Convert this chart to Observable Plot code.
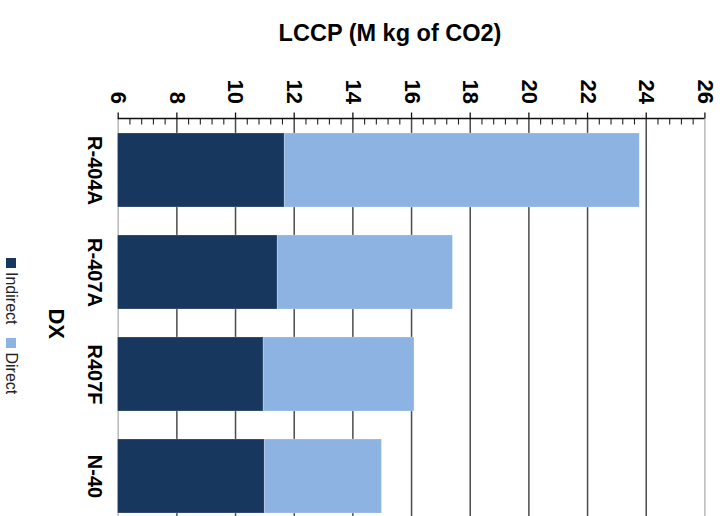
<!DOCTYPE html>
<html>
<head>
<meta charset="utf-8">
<script src="https://cdn.jsdelivr.net/npm/d3@7"></script>
<script src="https://cdn.jsdelivr.net/npm/@observablehq/plot@0.6"></script>
<style>
  html, body { margin: 0; padding: 0; background: #fff; overflow: hidden; }
  body { width: 723px; height: 516px; position: relative; font-family: "Liberation Sans", Arial, sans-serif; }
  #chart { position: absolute; left: 0; top: 0; }
  #title {
    position: absolute; left: 390px; top: 22px; transform: translateX(-50%);
    font-size: 23.5px; line-height: 23px; font-weight: bold; white-space: nowrap; color: #000;
  }
  #legend {
    position: absolute; left: 20px; top: 258px;
    transform-origin: 0 0; transform: rotate(90deg);
    font-size: 16px; line-height: 18px; white-space: nowrap; color: #222;
  }
  #legend .item { display: inline-block; margin-right: 14px; }
  #legend .sw { display: inline-block; width: 10px; height: 10px; margin-right: 4px; vertical-align: baseline; }
</style>
</head>
<body>
<div id="chart"></div>
<div id="title">LCCP (M kg of CO2)</div>
<div id="legend"></div>
<script>
// Refrigerant options (DX system) and their life-cycle climate performance, M kg of CO2
const categories = ["R-404A", "R-407A", "R407F", "N-40"];
const seriesNames = ["Indirect", "Direct"];
const seriesColors = ["#17375E", "#8DB3E2"];
const indirect = [11.68, 11.44, 10.96, 11.0];
const direct = [12.1, 5.97, 5.14, 3.99];
const xTicks = [6, 8, 10, 12, 14, 16, 18, 20, 22, 24, 26];
const minorStep = 0.4;

const rows = categories.flatMap((c, i) => [
  {category: c, series: seriesNames[0], value: indirect[i]},
  {category: c, series: seriesNames[1], value: direct[i]}
]);

const W = 723, H = 528;
const mTop = 118.5, mLeft = 117.7, mRight = 18.6, mBottom = 0;
const frameH = H - mTop - mBottom;
const [xMin, xMax] = [xTicks[0], xTicks[xTicks.length - 1]];
const minorTicks = d3.range(xMin, xMax + 1e-9, minorStep)
  .filter(v => !xTicks.some(t => Math.abs(t - v) < 1e-6));
const innerTicks = xTicks.filter(t => t !== xMin && t !== xMax);

const chart = Plot.plot({
  width: W,
  height: H,
  marginTop: mTop,
  marginLeft: mLeft,
  marginRight: mRight,
  marginBottom: mBottom,
  style: {fontFamily: "'Liberation Sans', Arial, sans-serif", background: "transparent", overflow: "visible"},
  x: {domain: [xMin, xMax], axis: null},
  y: {domain: categories, axis: null, paddingInner: 0.276, paddingOuter: 0.138},
  color: {domain: seriesNames, range: seriesColors},
  marks: [
    // vertical gridlines
    Plot.ruleX(innerTicks, {stroke: "#4a4a4a", strokeWidth: 1.5}),
    Plot.ruleX([xMin, xMax], {stroke: "#b4b4b4", strokeWidth: 1.4}),
    // stacked bars (the stack starts at zero, clipped to the axis minimum)
    Plot.barX(rows, Plot.stackX({
      x: "value", y: "category", fill: "series",
      stroke: "white", strokeOpacity: 0.22, strokeWidth: 1, clip: true
    })),
    // major ticks above the axis, minor ticks below it
    Plot.ruleX(xTicks, {insetTop: -6, insetBottom: frameH, stroke: "#111", strokeWidth: 1.3}),
    Plot.ruleX(minorTicks, {insetBottom: frameH - 6, stroke: "#222", strokeWidth: 1.1}),
    // axis line
    (index, scales, values, dims) => {
      const g = d3.create("svg:g");
      g.append("line")
        .attr("x1", scales.x(xMin)).attr("x2", scales.x(xMax))
        .attr("y1", dims.marginTop).attr("y2", dims.marginTop)
        .attr("stroke", "#111").attr("stroke-width", 1.4);
      return g.node();
    },
    // rotated value labels
    Plot.text(xTicks, {
      x: d => d, frameAnchor: "top", dy: -15, rotate: 90,
      textAnchor: "end", lineAnchor: "middle",
      fontSize: 22, fontWeight: "bold", fill: "#000"
    }),
    // rotated category labels
    Plot.text(categories, {
      y: d => d, frameAnchor: "left", dx: -24, rotate: 90,
      textAnchor: "middle", lineAnchor: "middle",
      fontSize: 20, fontWeight: "bold", fill: "#000"
    }),
    // category axis title
    Plot.text(["DX"], {
      frameAnchor: "left", dx: -62, rotate: 90,
      textAnchor: "middle", lineAnchor: "middle",
      fontSize: 22, fontWeight: "bold", fill: "#000"
    })
  ]
});
document.getElementById("chart").append(chart);

const legend = document.getElementById("legend");
seriesNames.forEach((name, i) => {
  const item = document.createElement("span");
  item.className = "item";
  const sw = document.createElement("span");
  sw.className = "sw";
  sw.style.background = seriesColors[i];
  item.append(sw, document.createTextNode(name));
  legend.append(item);
});
</script>
</body>
</html>
